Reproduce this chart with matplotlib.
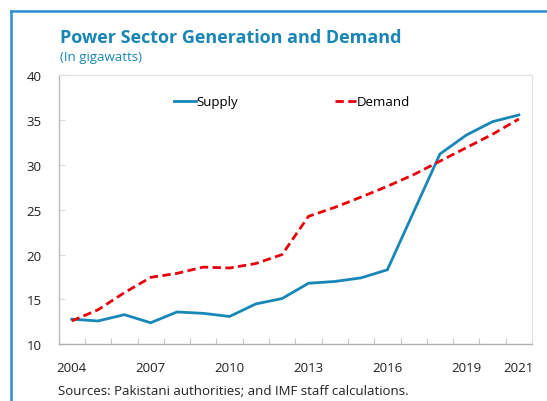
import matplotlib
matplotlib.use("Agg")
import matplotlib.pyplot as plt
from matplotlib.lines import Line2D
import numpy as np

years = list(range(2004, 2022))
supply = [12.8, 12.6, 13.3, 12.4, 13.6, 13.45, 13.1, 14.5, 15.1, 16.8, 17.0, 17.4, 18.3,
          24.75, 31.2, 33.3, 34.8, 35.55]
demand = [12.6, 13.85, 15.75, 17.45, 17.9, 18.6, 18.5, 19.0, 20.0, 24.25, 25.25, 26.4, 27.6,
          28.9, 30.4, 31.9, 33.4, 35.1]
xtick_labels = ["2004", "2007", "2010", "2013", "2016", "2019", "2021"]
yticks = [10, 15, 20, 25, 30, 35, 40]

FONT = ["Open Sans", "DejaVu Sans"]
plt.rcParams['font.family'] = FONT

fig = plt.figure(figsize=(5.47, 4.02), dpi=100)
ax = fig.add_axes([58.6/547, 1-345.3/402, (532-58.6)/547, (345.3-76)/402])

blue = "#1787b8"
red = "#e8000b"
ax.plot(years, supply, color=blue, lw=2.0, label="Supply", solid_joinstyle="miter")
ax.plot(years, demand, color=red, lw=2.0, ls=(0, (3, 1.6)), label="Demand")

ax.set_xlim(2003.5, 2021.5)
ax.set_ylim(10, 40)
ax.set_yticks(yticks)
ax.set_yticklabels([str(v) for v in yticks], fontsize=9.5, color="#222222")
ax.set_xticks([int(s) for s in xtick_labels])
ax.set_xticklabels(xtick_labels, fontsize=9.5, color="#222222")
ax.set_xticks(np.arange(2003.5, 2022, 1.0), minor=True)
ax.tick_params(axis="x", which="major", length=0, pad=12)
ax.tick_params(axis="x", which="minor", length=4, direction="in", color="#c8c8c8", width=0.8)
ax.tick_params(axis="y", which="major", length=4, direction="in", color="#d8d8d8", width=0.8, pad=12)

for s in ["top", "right"]:
    ax.spines[s].set_color("#e0e0e0")
    ax.spines[s].set_linewidth(0.8)
ax.spines["left"].set_color("#bcbcbc")
ax.spines["bottom"].set_color("#b0b0b0")
ax.spines["left"].set_linewidth(1.0)
ax.spines["bottom"].set_linewidth(1.0)

ax.legend(loc="upper center", bbox_to_anchor=(0.494, 0.968), ncol=2, frameon=False,
          fontsize=9.5, handlelength=1.6, handletextpad=0.1, columnspacing=7.3)

fig.text(60/547, 1-38/402, "Power Sector Generation and Demand", fontsize=13, fontweight="bold",
         color="#1a86b6", va="center", ha="left")
fig.text(60/547, 1-58/402, "(In gigawatts)", fontsize=9.5, color="#1a86b6", va="center", ha="left")
fig.text(58/547, 1-392/402, "Sources: Pakistani authorities; and IMF staff calculations.",
         fontsize=9.5, color="#222222", va="center", ha="left")

fig.add_artist(Line2D([10.5/547, 10.5/547], [0, 1-12/402], transform=fig.transFigure,
                      color="#2a8fd0", lw=1.8))
fig.add_artist(Line2D([10.5/547, 1], [1-12/402, 1-12/402], transform=fig.transFigure,
                      color="#2a8fd0", lw=1.8))

fig.savefig("out.png", dpi=100)
